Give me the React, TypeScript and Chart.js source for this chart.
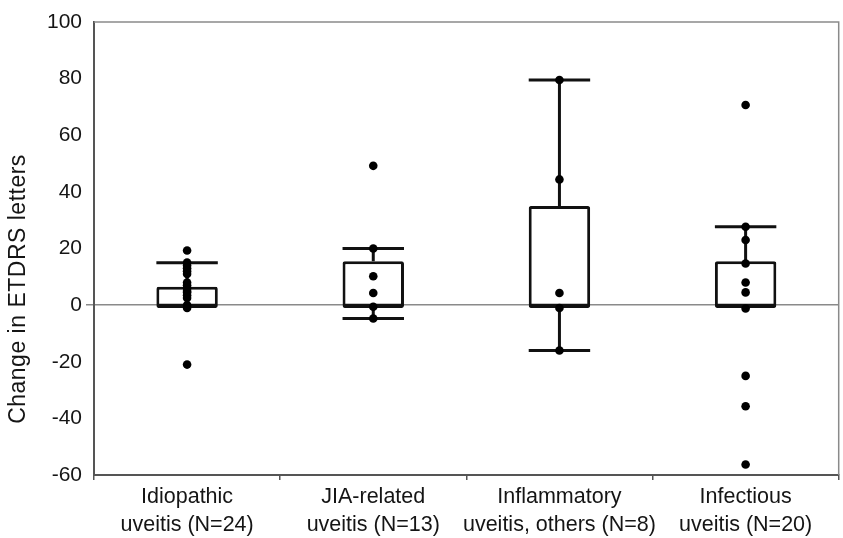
import React, { useEffect, useRef } from "react";
import { Chart, registerables } from "chart.js";

Chart.register(...registerables);

const categoryLines: string[][] = [
  ["Idiopathic", "uveitis (N=24)"],
  ["JIA-related", "uveitis (N=13)"],
  ["Inflammatory", "uveitis, others (N=8)"],
  ["Infectious", "uveitis (N=20)"],
];
const categories = categoryLines.map((l) => l.join(" "));

const q1 = [-1, -1, -1, -1];
const q3 = [6.5, 15.5, 35, 15.5];
const medians = [0, 0, 0, 0];
const whiskerLow = [-1, -4.7, -16, -1];
const whiskerHigh = [15, 20, 79.5, 27.7];

const pointsIdiopathic = [19.3, 15, 14, 13, 12, 11, 8, 7, 6, 5, 4.5, 3.5, 2.5, 0, -1, -21];
const pointsJIA = [49.2, 20, 10.2, 4.3, -0.6, -4.7];
const pointsInflammatory = [79.5, 44.4, 4.3, -1, -16];
const pointsInfectious = [70.7, 27.7, 23, 14.7, 8, 4.5, -1.2, -25, -35.7, -56.3];

const yTicks = [-60, -40, -20, 0, 20, 40, 60, 80, 100];
const yTitle = "Change in ETDRS letters";

const FONT = "'Liberation Sans', Arial, sans-serif";
const TEXT = "#151515";

export default function App() {
  const ref = useRef<HTMLCanvasElement | null>(null);

  useEffect(() => {
    document.body.style.margin = "0";
    const canvas = ref.current;
    if (!canvas) return;

    const groups = [pointsIdiopathic, pointsJIA, pointsInflammatory, pointsInfectious];
    const scatterData: { x: string; y: number }[] = [];
    groups.forEach((g, i) => g.forEach((v) => scatterData.push({ x: categories[i], y: v })));

    const boxPlugin = {
      id: "boxExtras",
      beforeDatasetsDraw(chart: any) {
        const { ctx, chartArea, scales } = chart;
        const x = scales.x;
        const y = scales.y;
        ctx.save();
        ctx.strokeStyle = "#8a8a8a";
        ctx.lineWidth = 1.5;
        ctx.beginPath();
        ctx.moveTo(chartArea.left, chartArea.top);
        ctx.lineTo(chartArea.right, chartArea.top);
        ctx.lineTo(chartArea.right, chartArea.bottom);
        ctx.stroke();
        ctx.restore();

        const meta = chart.getDatasetMeta(0);
        ctx.save();
        ctx.strokeStyle = "#111";
        ctx.lineWidth = 3;
        for (let i = 0; i < categories.length; i++) {
          const cx = x.getPixelForValue(i);
          const bar = meta.data[i];
          const half = bar ? bar.width / 2 : 30;
          const yHi = y.getPixelForValue(whiskerHigh[i]);
          const yQ3 = y.getPixelForValue(q3[i]);
          const yLo = y.getPixelForValue(whiskerLow[i]);
          const yQ1 = y.getPixelForValue(q1[i]);
          ctx.beginPath();
          if (whiskerHigh[i] > q3[i]) {
            ctx.moveTo(cx, yQ3);
            ctx.lineTo(cx, yHi);
            ctx.moveTo(cx - half, yHi);
            ctx.lineTo(cx + half, yHi);
          }
          if (whiskerLow[i] < q1[i]) {
            ctx.moveTo(cx, yQ1);
            ctx.lineTo(cx, yLo);
            ctx.moveTo(cx - half, yLo);
            ctx.lineTo(cx + half, yLo);
          }
          ctx.stroke();
        }
        ctx.restore();
      },
      afterDatasetDraw(chart: any, args: any) {
        if (args.index !== 0) return;
        const { ctx, scales } = chart;
        const meta = chart.getDatasetMeta(0);
        ctx.save();
        ctx.strokeStyle = "#111";
        ctx.lineWidth = 3;
        for (let i = 0; i < categories.length; i++) {
          const cx = scales.x.getPixelForValue(i);
          const bar = meta.data[i];
          const half = bar ? bar.width / 2 : 30;
          const ym = scales.y.getPixelForValue(medians[i]);
          ctx.beginPath();
          ctx.moveTo(cx - half + 1, ym);
          ctx.lineTo(cx + half - 1, ym);
          ctx.stroke();
        }
        ctx.restore();
      },
      afterDraw(chart: any) {
        const { ctx } = chart;
        ctx.save();
        ctx.translate(19, 289);
        ctx.rotate(-Math.PI / 2);
        ctx.fillStyle = TEXT;
        ctx.font = `23px ${FONT}`;
        try {
          (ctx as any).letterSpacing = "0.5px";
        } catch (e) {
          /* ignore */
        }
        ctx.textAlign = "center";
        ctx.textBaseline = "middle";
        ctx.fillText(yTitle, 0, 0);
        ctx.restore();
      },
    };

    const chart = new Chart(canvas, {
      type: "bar",
      data: {
        labels: categories,
        datasets: [
          {
            type: "bar",
            data: q1.map((v, i) => [v, q3[i]]) as any,
            backgroundColor: "#ffffff",
            borderColor: "#111",
            borderWidth: 3,
            borderSkipped: false,
            borderRadius: 2,
            barPercentage: 0.33,
            categoryPercentage: 1,
            order: 2,
          },
          {
            type: "line",
            data: scatterData as any,
            showLine: false,
            pointRadius: 4.3,
            pointBackgroundColor: "#000",
            pointBorderColor: "#000",
            pointBorderWidth: 0,
            order: 1,
          } as any,
        ],
      },
      options: {
        animation: false,
        responsive: false,
        maintainAspectRatio: false,
        layout: { padding: { top: 22, right: 2, left: 0, bottom: 0 } },
        plugins: {
          legend: { display: false },
          tooltip: { enabled: false },
        },
        scales: {
          x: {
            type: "category",
            offset: true,
            grid: {
              display: true,
              offset: true,
              drawOnChartArea: false,
              tickLength: 5,
              color: "#555",
              lineWidth: 1.5,
            },
            border: { display: true, color: "#555", width: 2 },
            ticks: {
              color: TEXT,
              font: { family: FONT, size: 21.5, lineHeight: 1.3 },
              padding: 3,
              maxRotation: 0,
              autoSkip: false,
              callback: (_v: any, i: number) => categoryLines[i],
            },
            afterFit(scale: any) {
              scale.height = 63;
            },
          },
          y: {
            min: -60,
            max: 100,
            afterBuildTicks(scale: any) {
              scale.ticks = yTicks.map((v) => ({ value: v }));
            },
            grid: {
              display: true,
              drawOnChartArea: true,
              tickLength: 8,
              color: (c: any) => (c.tick && c.tick.value === 0 ? "#8a8a8a" : "rgba(0,0,0,0)"),
              lineWidth: 1.5,
            },
            border: { display: true, color: "#555", width: 2 },
            ticks: {
              color: TEXT,
              font: { family: FONT, size: 21 },
              padding: 4,
            },
            afterFit(scale: any) {
              scale.width = 94;
            },
          },
        },
      } as any,
      plugins: [boxPlugin],
    });

    return () => chart.destroy();
  }, []);

  return (
    <div style={{ width: 843, height: 538 }}>
      <canvas ref={ref} width={843} height={538} style={{ width: 843, height: 538, display: "block" }} />
    </div>
  );
}
